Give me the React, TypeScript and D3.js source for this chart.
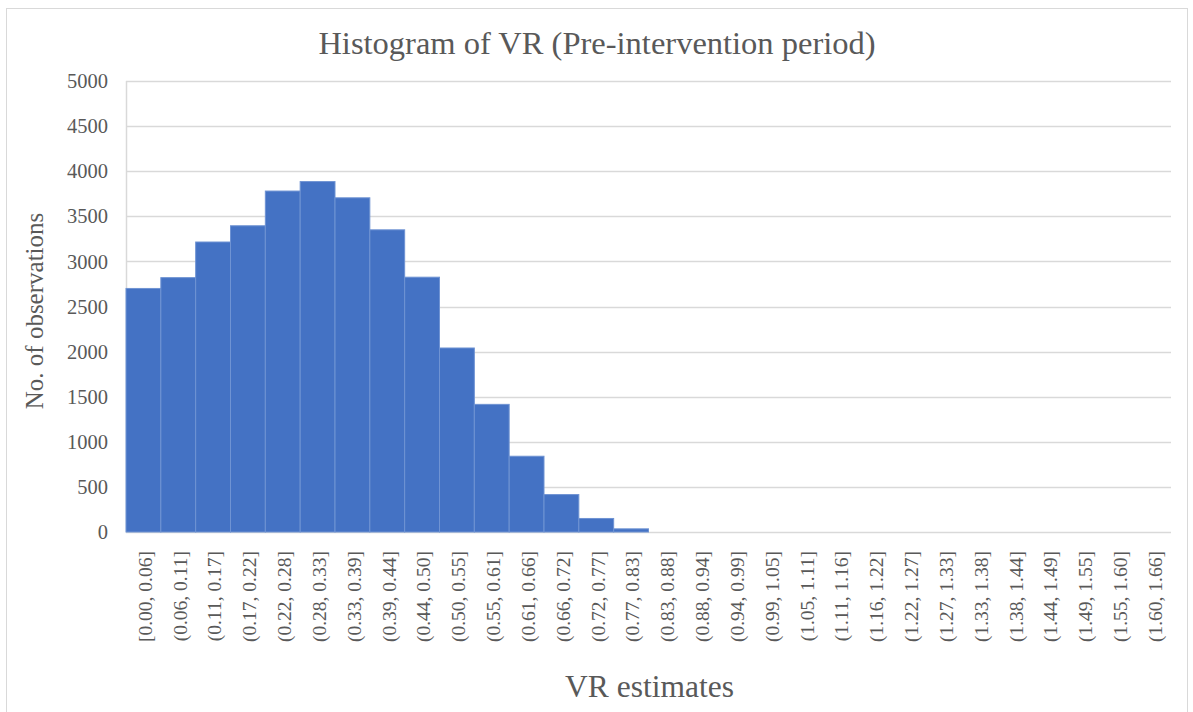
import React, { useEffect, useRef } from 'react';
import * as d3 from 'd3';

const binLabels = [
  '[0.00, 0.06]', '(0.06, 0.11]', '(0.11, 0.17]', '(0.17, 0.22]', '(0.22, 0.28]',
  '(0.28, 0.33]', '(0.33, 0.39]', '(0.39, 0.44]', '(0.44, 0.50]', '(0.50, 0.55]',
  '(0.55, 0.61]', '(0.61, 0.66]', '(0.66, 0.72]', '(0.72, 0.77]', '(0.77, 0.83]',
  '(0.83, 0.88]', '(0.88, 0.94]', '(0.94, 0.99]', '(0.99, 1.05]', '(1.05, 1.11]',
  '(1.11, 1.16]', '(1.16, 1.22]', '(1.22, 1.27]', '(1.27, 1.33]', '(1.33, 1.38]',
  '(1.38, 1.44]', '(1.44, 1.49]', '(1.49, 1.55]', '(1.55, 1.60]', '(1.60, 1.66]',
];

const counts = [
  2700, 2820, 3215, 3395, 3780, 3885, 3705, 3350, 2825, 2040,
  1415, 840, 415, 150, 35, 0, 0, 0, 0, 0,
  0, 0, 0, 0, 0, 0, 0, 0, 0, 0,
];

const yTicks = [0, 500, 1000, 1500, 2000, 2500, 3000, 3500, 4000, 4500, 5000];

const W = 1193;
const H = 712;
const FONT = "'Liberation Serif', Tinos, 'Times New Roman', 'DejaVu Serif', serif";
const TEXT = '#595959';

export default function App() {
  const ref = useRef<SVGSVGElement>(null);

  useEffect(() => {
    const svg = d3.select(ref.current);
    svg.selectAll('*').remove();

    const margin = { top: 81, right: 22, left: 126 };
    const plotBottom = 532;

    // chart frame
    svg.append('rect')
      .attr('x', 6.5).attr('y', 8.5)
      .attr('width', 1181).attr('height', 720)
      .attr('fill', '#fff')
      .attr('stroke', '#d9d9d9');

    const x = d3.scaleBand()
      .domain(binLabels)
      .range([margin.left, W - margin.right])
      .padding(0);

    const y = d3.scaleLinear()
      .domain([0, 5000])
      .range([plotBottom, margin.top]);

    // gridlines
    svg.append('g')
      .selectAll('line')
      .data(yTicks)
      .enter()
      .append('line')
      .attr('x1', margin.left)
      .attr('x2', W - margin.right)
      .attr('y1', d => Math.round(y(d)) + 0.5)
      .attr('y2', d => Math.round(y(d)) + 0.5)
      .attr('stroke', '#d9d9d9')
      .attr('stroke-width', 1.5);

    // left axis line
    svg.append('line')
      .attr('x1', margin.left + 0.5).attr('x2', margin.left + 0.5)
      .attr('y1', y(5000)).attr('y2', plotBottom)
      .attr('stroke', '#d9d9d9')
      .attr('stroke-width', 1.5);

    // bars
    svg.append('g')
      .selectAll('rect')
      .data(counts.map((c, i) => ({ label: binLabels[i], count: c })).filter(d => d.count > 0))
      .enter()
      .append('rect')
      .attr('x', d => x(d.label))
      .attr('y', d => y(d.count))
      .attr('width', x.bandwidth())
      .attr('height', d => plotBottom - y(d.count))
      .attr('fill', '#4472c4')
      .attr('stroke', '#6f93d3')
      .attr('stroke-width', 1);

    const text = svg.append('g')
      .style('font-family', FONT)
      .attr('fill', TEXT);

    // y tick labels
    text.append('g')
      .selectAll('text')
      .data(yTicks)
      .enter()
      .append('text')
      .attr('x', 108)
      .attr('y', d => y(d))
      .attr('dy', '0.35em')
      .attr('text-anchor', 'end')
      .style('font-size', '20.5px')
      .text(d => d);

    // x tick labels (rotated)
    text.append('g')
      .selectAll('text')
      .data(binLabels)
      .enter()
      .append('text')
      .attr('transform', d => `translate(${x(d) + x.bandwidth() / 2 + 1.5},551) rotate(-90)`)
      .attr('dy', '0.35em')
      .attr('text-anchor', 'end')
      .style('font-size', '19.5px')
      .text(d => d);

    // title
    text.append('text')
      .attr('x', 597)
      .attr('y', 54)
      .attr('text-anchor', 'middle')
      .style('font-size', '32.5px')
      .text('Histogram of VR (Pre-intervention period)');

    // y axis title
    text.append('text')
      .attr('transform', `translate(43,311) rotate(-90)`)
      .attr('text-anchor', 'middle')
      .style('font-size', '25px')
      .text('No. of observations');

    // x axis title
    text.append('text')
      .attr('x', (margin.left + W - margin.right) / 2 + 1)
      .attr('y', 697)
      .attr('text-anchor', 'middle')
      .style('font-size', '31.5px')
      .text('VR estimates');
  }, []);

  return (
    <svg
      ref={ref}
      width={W}
      height={H}
      style={{ position: 'absolute', left: 0, top: 0, background: '#fff' }}
    />
  );
}
